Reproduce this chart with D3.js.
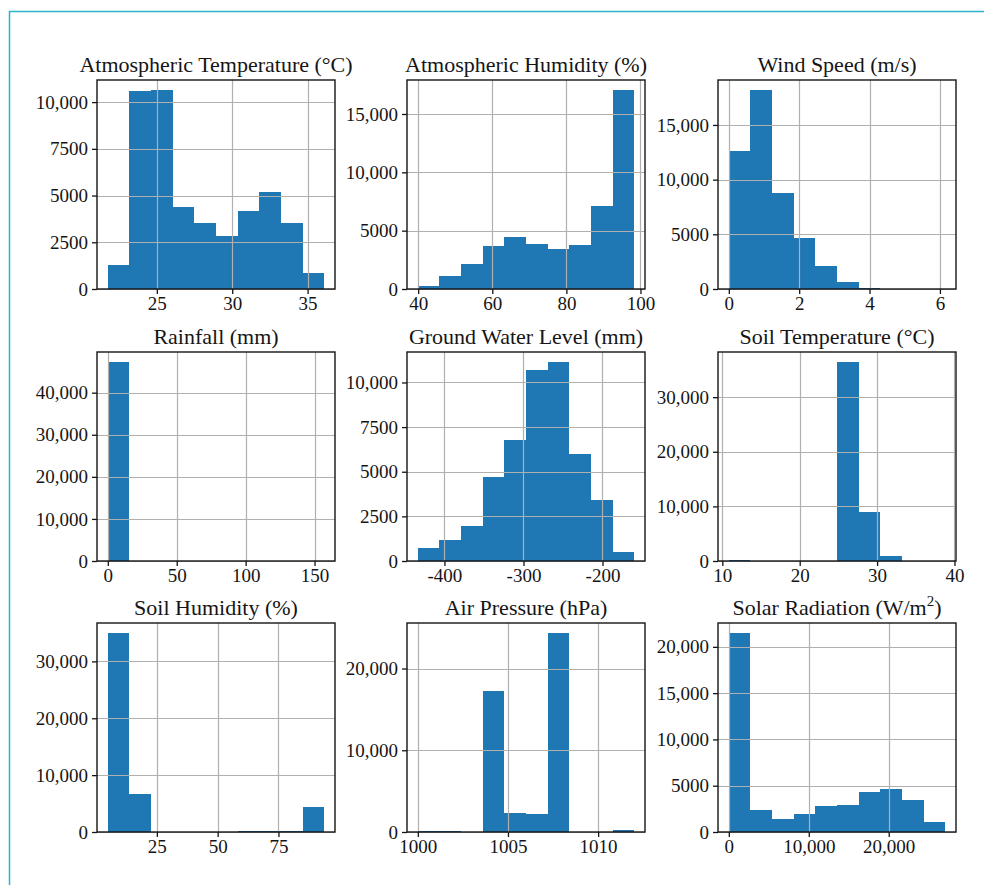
<!DOCTYPE html>
<html>
<head>
<meta charset="utf-8">
<script src="https://cdn.jsdelivr.net/npm/d3@7"></script>
<style>
  body { margin: 0; background: #fff; }
  svg { display: block; font-family: "Liberation Serif", "Times New Roman", serif; }
</style>
</head>
<body>
<div id="chart"></div>
<script>
// histogram panels
var titles = ["Atmospheric Temperature (°C)", "Atmospheric Humidity (%)", "Wind Speed (m/s)",
  "Rainfall (mm)", "Ground Water Level (mm)", "Soil Temperature (°C)",
  "Soil Humidity (%)", "Air Pressure (hPa)", "Solar Radiation (W/m2)"];

// lowest and highest value of each variable (bin edges run between them, 10 bins)
var binMin = [21.75, 39.9, 0, 0, -433.7, 10.84, 4.84, 1000, 0];
var binMax = [36.1, 98.3, 6.15, 157, -159.9, 38.8, 93.8, 1012, 27060];

var atmTemp = [1300, 10600, 10650, 4400, 3550, 2840, 4150, 5180, 3520, 860];
var atmHum = [230, 1100, 2100, 3700, 4450, 3870, 3440, 3780, 7110, 17060];
var windSpeed = [12600, 18200, 8750, 4700, 2100, 650, 50, 10, 3, 1];
var rainfall = [47300, 30, 10, 5, 2, 1, 1, 0, 0, 1];
var groundWater = [720, 1150, 1950, 4690, 6800, 10700, 11150, 6000, 3430, 520];
var soilTemp = [250, 0, 2, 5, 20, 36450, 9000, 950, 20, 5];
var soilHum = [35000, 6700, 10, 5, 5, 20, 120, 150, 180, 4450];
var airPressure = [150, 150, 0, 17300, 2300, 2250, 24350, 5, 20, 300];
var solarRad = [21500, 2350, 1450, 1900, 2800, 2950, 4350, 4600, 3500, 1100];

var counts = [atmTemp, atmHum, windSpeed, rainfall, groundWater, soilTemp, soilHum, airPressure, solarRad];

var xTicks = [[25, 30, 35], [40, 60, 80, 100], [0, 2, 4, 6], [0, 50, 100, 150],
  [-400, -300, -200], [10, 20, 30, 40], [25, 50, 75], [1000, 1005, 1010], [0, 10000, 20000]];
var yTicks = [[0, 2500, 5000, 7500, 10000], [0, 5000, 10000, 15000], [0, 5000, 10000, 15000],
  [0, 10000, 20000, 30000, 40000], [0, 2500, 5000, 7500, 10000], [0, 10000, 20000, 30000],
  [0, 10000, 20000, 30000], [0, 10000, 20000], [0, 5000, 10000, 15000, 20000]];

var width = 984, height = 885,
  colLeft = [97, 407, 718],
  rowTop = [80, 352, 623],
  pw = 238, ph = 209,
  barColor = "#1f77b4",
  ink = "#151515";

function fmt(v) {
  if (Math.abs(v) >= 10000) return d3.format(",")(v);
  return String(v);
}

var svg = d3.select("#chart").append("svg")
  .attr("width", width)
  .attr("height", height);

// page frame
svg.append("path")
  .attr("d", "M9.5," + height + "V11.5H" + width)
  .attr("fill", "none")
  .attr("stroke", "#2ab4cf")
  .attr("stroke-width", 1.5);

titles.forEach(function(title, i) {
  var col = i % 3, row = Math.floor(i / 3);
  var lo = binMin[i], hi = binMax[i], span = hi - lo;
  var data = counts[i];
  var step = span / data.length;

  var x = d3.scaleLinear()
    .domain([lo - 0.05 * span, hi + 0.05 * span])
    .range([0, pw]);
  var y = d3.scaleLinear()
    .domain([0, d3.max(data) * 1.05])
    .range([ph, 0]);

  var g = svg.append("g")
    .attr("transform", "translate(" + colLeft[col] + "," + rowTop[row] + ")");

  // bars
  g.selectAll(".bar")
    .data(data)
    .enter().append("rect")
    .attr("class", "bar")
    .attr("x", function(d, k) { return x(lo + k * step); })
    .attr("width", function(d, k) { return x(lo + (k + 1) * step) - x(lo + k * step); })
    .attr("y", function(d) { return y(d); })
    .attr("height", function(d) { return ph - y(d); })
    .attr("fill", barColor)
    .attr("shape-rendering", "crispEdges");

  // grid on top of the bars
  g.append("g").selectAll("line")
    .data(xTicks[i])
    .enter().append("line")
    .attr("x1", function(d) { return Math.round(x(d)) + 0.5; })
    .attr("x2", function(d) { return Math.round(x(d)) + 0.5; })
    .attr("y1", 0).attr("y2", ph)
    .attr("stroke", "#b0b0b0").attr("stroke-width", 1.2);
  g.append("g").selectAll("line")
    .data(yTicks[i])
    .enter().append("line")
    .attr("y1", function(d) { return Math.round(y(d)) + 0.5; })
    .attr("y2", function(d) { return Math.round(y(d)) + 0.5; })
    .attr("x1", 0).attr("x2", pw)
    .attr("stroke", "#b0b0b0").attr("stroke-width", 1.2);

  // axes
  var xAxis = g.append("g")
    .attr("transform", "translate(0," + ph + ")")
    .call(d3.axisBottom(x).tickValues(xTicks[i]).tickFormat(fmt).tickSize(5).tickPadding(3));
  var yAxis = g.append("g")
    .call(d3.axisLeft(y).tickValues(yTicks[i]).tickFormat(fmt).tickSize(5).tickPadding(4));
  [xAxis, yAxis].forEach(function(ax) {
    ax.select(".domain").remove();
    ax.selectAll("line").attr("stroke", ink).attr("stroke-width", 1.3);
    ax.selectAll("text")
      .attr("fill", ink)
      .style("font-size", "19px")
      .style("font-family", "'Liberation Serif', serif");
  });

  // frame
  g.append("rect")
    .attr("width", pw).attr("height", ph)
    .attr("fill", "none")
    .attr("stroke", ink)
    .attr("stroke-width", 1.4);

  // title
  var t = g.append("text")
    .attr("x", pw / 2)
    .attr("y", -8)
    .attr("text-anchor", "middle")
    .attr("fill", ink)
    .style("font-size", "22px");
  if (title.slice(-3) === "m2)") {
    t.append("tspan").text(title.slice(0, -2));
    t.append("tspan").attr("dy", -9).style("font-size", "15px").text("2");
    t.append("tspan").attr("dy", 9).text(")");
  } else {
    t.text(title);
  }
});
</script>
</body>
</html>
